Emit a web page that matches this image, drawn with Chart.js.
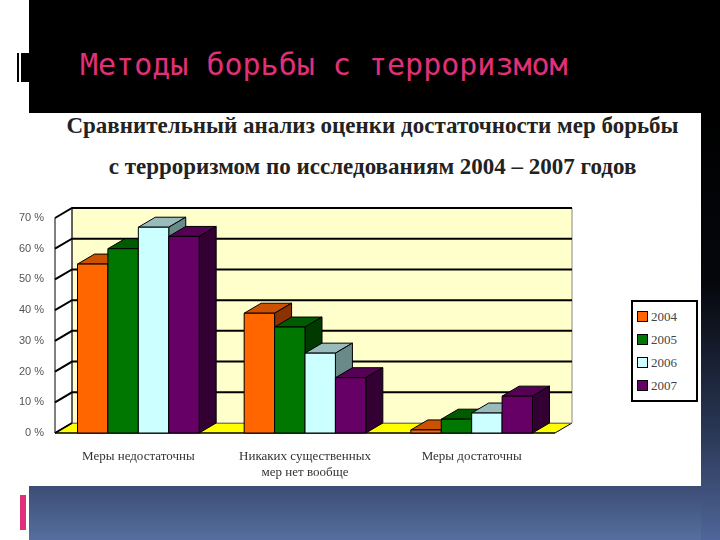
<!DOCTYPE html>
<html>
<head>
<meta charset="utf-8">
<script src="https://cdn.jsdelivr.net/npm/chart.js@4"></script>
<style>
  body{margin:0;width:720px;height:540px;overflow:hidden;position:relative;background:#fff;}
  #topBand{position:absolute;left:29px;top:0;width:691px;height:113px;background:#000;}
  #rightStrip{position:absolute;left:701px;top:113px;width:19px;height:427px;background:linear-gradient(to bottom,#000 0%,#05070c 40%,#2a3756 75%,#50669a 100%);}
  #bottomBand{position:absolute;left:29px;top:486px;width:672px;height:54px;background:linear-gradient(to bottom,#3c4d74 0%,#566e9f 100%);}
  #slideTitle{position:absolute;left:80px;top:47px;color:#e0307a;font-family:"DejaVu Sans Mono",monospace;font-size:30px;white-space:nowrap;}
  #marker1{position:absolute;left:17px;top:53px;width:10px;height:29px;background:#000;border-left:2px solid #000;box-shadow:inset 2px 0 0 #fff;}
  #marker2{position:absolute;left:20px;top:495px;width:6px;height:35px;background:#e0307a;}
  #panel{position:absolute;left:0;top:113px;width:701px;height:373px;background:#fff;}
  .ctitle{position:absolute;left:22px;width:701px;text-align:center;font-family:"Liberation Serif",serif;font-weight:bold;font-size:23px;color:#222;white-space:nowrap;}
  #legend{position:absolute;left:631px;top:187px;width:55px;border:2px solid #000;padding:3px 4px;font-family:"Liberation Serif",serif;font-size:13px;color:#444;background:#fff;}
  #legend div{height:23px;line-height:23px;white-space:nowrap;}
  #legend span{display:inline-block;width:9px;height:9px;border:1px solid #000;margin-right:3px;vertical-align:-1px;}
  canvas{position:absolute;left:0;top:82px;}
</style>
</head>
<body>
<div id="topBand"></div>
<div id="rightStrip"></div>
<div id="bottomBand"></div>
<div id="marker1"></div>
<div id="slideTitle">Методы борьбы с терроризмом</div>
<div id="marker2"></div>
<div id="panel">
  <div class="ctitle" style="top:0px">Сравнительный анализ оценки достаточности мер борьбы</div>
  <div class="ctitle" style="top:41px">с терроризмом по исследованиям 2004 – 2007 годов</div>
  <canvas id="chart" width="600" height="295"></canvas>
  <div id="legend"></div>
</div>
<script>
const categories = [['Меры недостаточны'], ['Никаких существенных', 'мер нет вообще'], ['Меры достаточны']];
const years = ['2004', '2005', '2006', '2007'];
const values2004 = [55, 39, 1];
const values2005 = [60, 34.5, 4.5];
const values2006 = [67, 26, 6.5];
const values2007 = [64, 18, 12];
const yTicks = [0, 10, 20, 30, 40, 50, 60, 70];

const fronts = ['#ff6600', '#007700', '#ccffff', '#660066'];
const tops = ['#cc5200', '#005a00', '#99bbbb', '#550055'];
const sides = ['#8a3300', '#003a00', '#6a8a8a', '#330033'];
const DX = 17, DY = -10;

const legend = document.getElementById('legend');
years.forEach((y, i) => {
  legend.innerHTML += `<div><span style="background:${fronts[i]}"></span>${y}</div>`;
});

function poly(ctx, pts, fill){
  ctx.beginPath();
  ctx.moveTo(pts[0][0], pts[0][1]);
  for(let i=1;i<pts.length;i++) ctx.lineTo(pts[i][0], pts[i][1]);
  ctx.closePath();
  ctx.fillStyle = fill;
  ctx.fill();
  ctx.stroke();
}

const box3d = {
  id: 'box3d',
  beforeDatasetsDraw(chart){
    const {ctx, chartArea: a, scales: {y}} = chart;
    ctx.save();
    ctx.strokeStyle = '#000';
    ctx.lineWidth = 1;
    // floor
    poly(ctx, [[a.left,a.bottom],[a.right,a.bottom],[a.right+DX,a.bottom+DY],[a.left+DX,a.bottom+DY]], '#ffff00');
    // back wall
    ctx.strokeStyle = '#888';
    poly(ctx, [[a.left+DX,a.top+DY],[a.right+DX,a.top+DY],[a.right+DX,a.bottom+DY],[a.left+DX,a.bottom+DY]], '#ffffcc');
    ctx.strokeStyle = '#000';
    ctx.lineWidth = 2;
    yTicks.forEach(t => {
      const py = y.getPixelForValue(t);
      ctx.beginPath();
      ctx.moveTo(a.left, py);
      ctx.lineTo(a.left+DX, py+DY);
      if(t > 0) ctx.lineTo(a.right+DX, py+DY);
      ctx.stroke();
    });
    ctx.lineWidth = 1;
    ctx.beginPath();
    ctx.moveTo(a.left+DX, a.top+DY); ctx.lineTo(a.left+DX, a.bottom+DY);
    ctx.moveTo(a.left, a.top); ctx.lineTo(a.left, a.bottom); ctx.lineTo(a.right, a.bottom);
    ctx.stroke();
    ctx.restore();
  },
  afterDatasetsDraw(chart){
    const ctx = chart.ctx;
    ctx.save();
    ctx.strokeStyle = '#000';
    ctx.lineWidth = 1;
    const metas = chart.data.datasets.map((d, i) => chart.getDatasetMeta(i));
    categories.forEach((c, j) => {
      metas.forEach((m, i) => {
        const b = m.data[j];
        const l = b.x - b.width/2, r = b.x + b.width/2, t = b.y, bt = b.base;
        poly(ctx, [[l,t],[l+DX,t+DY],[r+DX,t+DY],[r,t]], tops[i]);
        poly(ctx, [[r,t],[r+DX,t+DY],[r+DX,bt+DY],[r,bt]], sides[i]);
        poly(ctx, [[l,t],[r,t],[r,bt],[l,bt]], fronts[i]);
      });
    });
    ctx.restore();
  }
};

new Chart(document.getElementById('chart'), {
  type: 'bar',
  data: {
    labels: categories,
    datasets: [
      {label: years[0], data: values2004},
      {label: years[1], data: values2005},
      {label: years[2], data: values2006},
      {label: years[3], data: values2007}
    ].map((d, i) => Object.assign(d, {backgroundColor: fronts[i], categoryPercentage: 0.73, barPercentage: 1}))
  },
  options: {
    responsive: false,
    animation: false,
    layout: {padding: {top: 23, right: 45, left: 0, bottom: 0}},
    plugins: {legend: {display: false}, tooltip: {enabled: false}},
    scales: {
      x: {
        grid: {display: false}, border: {display: false},
        ticks: {color: '#333', font: {family: 'Liberation Serif', size: 13}, padding: 8, maxRotation: 0},
        afterFit(s){ s.height = 57; }
      },
      y: {
        min: 0, max: 70,
        grid: {display: false}, border: {display: false},
        ticks: {stepSize: 10, color: '#555', font: {family: 'Liberation Sans', size: 11}, callback: v => v + ' %'},
        afterFit(s){ s.width = 55; }
      }
    }
  },
  plugins: [box3d]
});
</script>
</body>
</html>
